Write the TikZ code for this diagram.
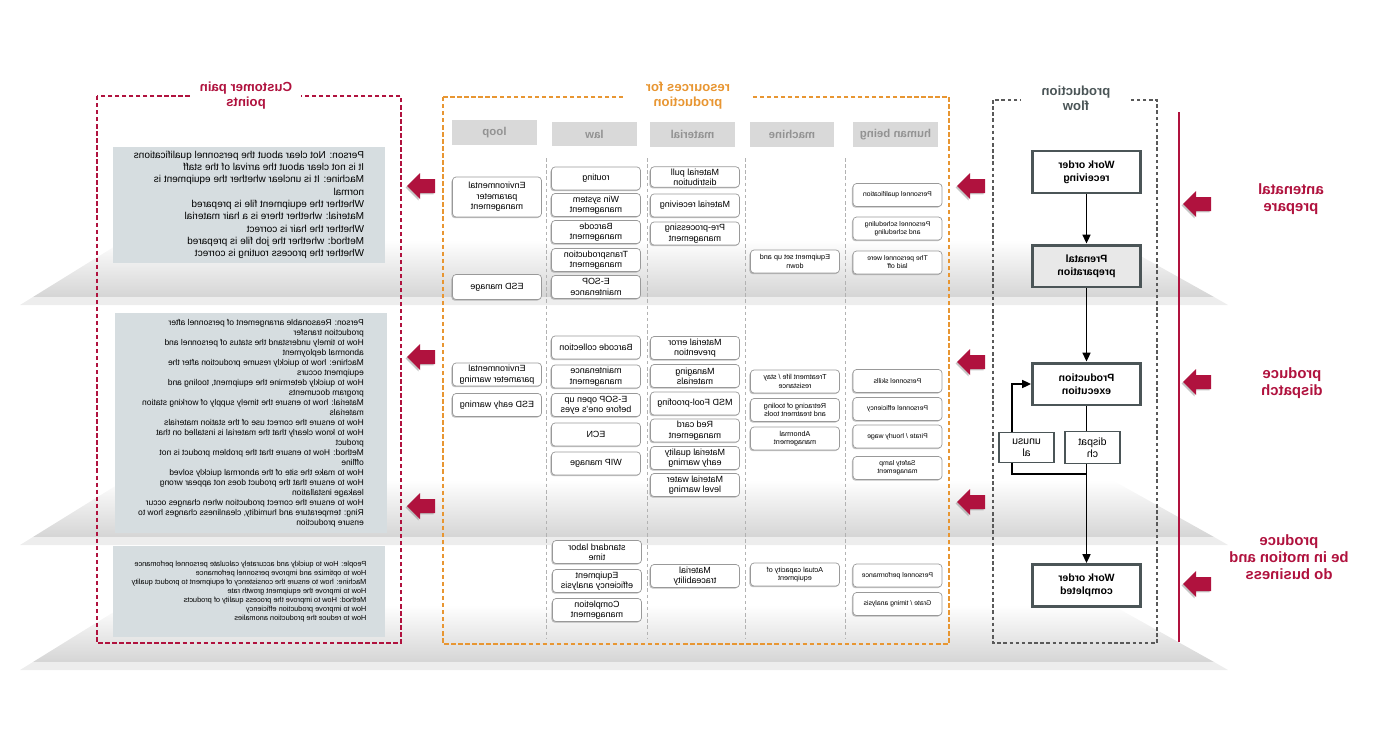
\documentclass[tikz,border=0pt]{standalone}
\usepackage{fontspec}
\setmainfont{Liberation Sans}
\usetikzlibrary{arrows.meta,shadows}

\definecolor{crimson}{RGB}{176,18,62}
\definecolor{resorange}{RGB}{232,150,50}
\definecolor{flowgray}{RGB}{75,85,87}
\definecolor{painfill}{RGB}{214,221,224}
\definecolor{headfill}{RGB}{217,217,217}

\tikzset{
  resbox/.style={draw=gray!80, fill=white, rounded corners=2pt, minimum width=1.78cm,
    minimum height=0.46cm, inner sep=1pt, align=center, font=\fontsize{5.1}{5.9}\selectfont,
    drop shadow={shadow xshift=-0.6pt, shadow yshift=-0.7pt, opacity=.5}},
  smallbox/.style={resbox, font=\fontsize{3.9}{4.6}\selectfont},
  headbox/.style={fill=headfill, minimum width=1.7cm, minimum height=0.5cm, text=gray!85,
    font=\fontsize{6.5}{7}\selectfont\bfseries},
  painbox/.style={fill=painfill, align=left, inner sep=0pt, minimum width=5.44cm},
  flowbox/.style={draw=flowgray, line width=1.7pt, fill=white, minimum width=2.16cm,
    minimum height=0.84cm, align=center, font=\fontsize{6}{7.2}\selectfont\bfseries},
  branchbox/.style={draw=flowgray, line width=0.6pt, fill=white, minimum width=1.1cm,
    minimum height=0.58cm, align=center, font=\fontsize{6}{7}\selectfont},
  flowarrow/.style={line width=1pt, -{Triangle[length=5pt,width=4.5pt]}},
  frametitle/.style={fill=white, align=center, minimum width=2.2cm, inner sep=1pt,
    font=\fontsize{7.5}{8.5}\selectfont\bfseries},
  phase/.style={text=crimson, align=center, font=\fontsize{8.5}{9.7}\selectfont\bfseries},
  colsep/.style={gray!60, line width=.5pt, dash pattern=on 2pt off 1.5pt},
  redarrow/.style={fill=crimson, drop shadow={shadow xshift=-0.8pt, shadow yshift=-0.8pt, opacity=.45}},
}

\begin{document}
\begin{tikzpicture}[x=-0.02cm, y=-0.02cm, xscale=-1, transform shape]
\useasboundingbox (0,0) rectangle (1380,730);

% floors
\foreach \t/\b in {240/305, 480/545, 605/670} {
  \shade[top color=white, bottom color=gray!33] (125,\t) -- (1112,\t) -- (1214,\b-8) -- (33,\b-8) -- cycle;
  \fill[gray!14] (33,\b-8) -- (1214,\b-8) -- (1228,\b) -- (20,\b) -- cycle;
}

% frames
\draw[crimson, line width=.9pt, dash pattern=on 2.5pt off 1.5pt] (97,96) rectangle (401,643);
\draw[resorange, line width=.9pt, dash pattern=on 2.5pt off 1.5pt] (443,97) rectangle (949,644);
\draw[gray!70!black, line width=.7pt, dash pattern=on 2pt off 1.5pt] (993,100) rectangle (1157,643);
\node[frametitle, text=crimson] (tpain) at (246,96) {Customer pain\\points};
\node[frametitle, text=resorange, minimum width=2.6cm] (tres) at (688,96) {resources for\\production};
\node[frametitle, text=flowgray] (tflow) at (1076,98) {production\\flow};

% pain points
\node[painbox, minimum height=2.32cm, font=\fontsize{5.7}{7}\selectfont] (p1) at (249,205) {%
Person: Not clear about the personnel qualifications\\
It is not clear about the arrival of the staff\\
Machine: It is unclear whether the equipment is\\
normal\\
Whether the equipment file is prepared\\
Material: whether there is a hair material\\
Whether the hair is correct\\
Method: whether the job file is prepared\\
Whether the process routing is correct};
\node[painbox, minimum height=4.4cm, font=\fontsize{4.8}{5.7}\selectfont] (p2) at (251,423) {%
Person: Reasonable arrangement of personnel after\\
production transfer\\
How to timely understand the status of personnel and\\
abnormal deployment\\
Machine: how to quickly resume production after the\\
equipment occurs\\
How to quickly determine the equipment, tooling and\\
program documents\\
Material: how to ensure the timely supply of working station\\
materials\\
How to ensure the correct use of the station materials\\
How to know clearly that the material is installed on that\\
product\\
Method: How to ensure that the problem product is not\\
offline\\
How to make the site of the abnormal quickly solved\\
How to ensure that the product does not appear wrong\\
leakage installation\\
How to ensure the correct production when changes occur\\
Ring: temperature and humidity, cleanliness changes how to\\
ensure production};
\node[painbox, minimum height=1.82cm, font=\fontsize{4.2}{5.1}\selectfont] (p3) at (249,591.5) {%
People: How to quickly and accurately calculate personnel perfomance\\
How to optimize and improve personnel perfomance\\
Machine: how to ensure the consistency of equipment to product quality\\
How to improve the equipment growth rate\\
Method: How to improve the process quality of products\\
How to improve production efficiency\\
How to reduce the production anomalies};

% column heads
\node[headbox] (hloop) at (494.5,132.5) {loop};
\node[headbox] (hlaw) at (594.5,134) {law};
\node[headbox] (hmat) at (692.5,134.5) {material};
\node[headbox] (hmach) at (792,134.5) {machine};
\node[headbox] (hhum) at (895.5,134.5) {human being};
\foreach \sx in {546,647,745,845}
  \draw[colsep] (\sx,158) -- (\sx,638);

% loop
\node[resbox, minimum height=0.8cm] (l1) at (497,197) {Environmental\\parameter\\management};
\node[resbox, minimum height=0.5cm] (l2) at (497,287) {ESD manage};
\node[resbox] (l3) at (497,374.5) {Environmental\\parameter warning};
\node[resbox] (l4) at (497,405) {ESD early warning};

% law
\node[resbox] (w1) at (596,178.5) {routing};
\node[resbox] (w2) at (596,205) {Win system\\management};
\node[resbox] (w3) at (596,232) {Barcode\\management};
\node[resbox] (w4) at (596,260) {Transproduction\\management};
\node[resbox] (w5) at (596,287) {E-SOP\\maintenance};
\node[resbox] (w6) at (596,347.5) {Barcode collection};
\node[resbox] (w7) at (596,376.5) {maintenance\\management};
\node[resbox] (w8) at (596,405) {E-SOP open up\\before one's eyes};
\node[resbox] (w9) at (596,434.5) {ECN};
\node[resbox] (w10) at (596,463.5) {WIP manage};
\node[resbox] (w11) at (597,552) {standard labor\\time};
\node[resbox] (w12) at (597,581) {Equipment\\efficiency analysis};
\node[resbox] (w13) at (597,610) {Completion\\management};

% material
\node[resbox, minimum height=0.4cm] (m1) at (695,177) {Material pull\\distribution};
\node[resbox] (m2) at (695,205.5) {Material receiving};
\node[resbox] (m3) at (695,233.5) {Pre-processing\\management};
\node[resbox] (m4) at (695,348) {Material error\\prevention};
\node[resbox] (m5) at (695,376) {Managing\\materials};
\node[resbox] (m6) at (695,403.5) {MSD Fool-proofing};
\node[resbox] (m7) at (695,430.5) {Red card\\management};
\node[resbox] (m8) at (695,458) {Material quality\\early warning};
\node[resbox] (m9) at (695,485) {Material water\\level warning};
\node[resbox] (m10) at (695,576) {Material\\traceability};

% machine
\node[smallbox, font=\fontsize{4.1}{4.8}\selectfont] (c1) at (795,261.5) {Equipment set up and\\down};
\node[smallbox, font=\fontsize{4.1}{4.8}\selectfont] (c2) at (795,381.5) {Treatment life / stay\\resistance};
\node[smallbox, font=\fontsize{4.1}{4.8}\selectfont] (c3) at (795,410) {Retracing of tooling\\and treatment tools};
\node[smallbox, font=\fontsize{4.1}{4.8}\selectfont] (c4) at (795,438.5) {Abnormal\\management};
\node[smallbox, font=\fontsize{4.1}{4.8}\selectfont] (c5) at (795,574.5) {Actual capacity of\\equipment};

% human being
\node[smallbox] (h1) at (897.5,195) {Personnel qualification};
\node[smallbox] (h2) at (897.5,228.5) {Personnel scheduling\\and scheduling};
\node[smallbox] (h3) at (897.5,262.5) {The personnel were\\laid off};
\node[smallbox] (h4) at (897.5,381) {Personnel skills};
\node[smallbox] (h5) at (897.5,409) {Personnel efficiency};
\node[smallbox] (h6) at (897.5,436.5) {Pirate / hourly wage};
\node[smallbox] (h7) at (897.5,468) {Safety lamp\\management};
\node[smallbox] (h8) at (897.5,575.5) {Personnel performance};
\node[smallbox] (h9) at (897.5,604) {Grate / timing analysis};

% production flow
\node[flowbox] (f1) at (1086.5,172) {Work order\\receiving};
\node[flowbox, fill=gray!18] (f2) at (1086.5,266) {Prenatal\\preparation};
\node[flowbox] (f3) at (1086.5,384) {Production\\execution};
\node[flowbox] (f4) at (1086.5,585.5) {Work order\\completed};
\draw[flowarrow] (f1) -- (f2);
\draw[flowarrow] (f2) -- (f3);
\draw[flowarrow] (f3) -- (f4);
\coordinate (lp) at (1086.5,474);
\coordinate (lc) at (1012,474);
\draw[flowarrow] (lp) -- (lc) |- (f3.east);
\node[branchbox] (disp) at (1092.5,447.5) {dispat\\ch};
\node[branchbox] (unus) at (1026.5,447.5) {unusu\\al};

% stages
\draw[crimson, line width=1.2pt] (1179,112) -- (1179,642);
\node[phase] (s1) at (1291,199.5) {antenatal\\prepare};
\node[phase] (s2) at (1292,383.5) {produce\\dispatch};
\node[phase] (s3) at (1289,557.5) {produce\\be in motion and\\do business};

% red arrows
\foreach \ax/\ay in {421/186, 421/357, 421/506, 971/186, 971/362, 971/502, 1197/204, 1197/382, 1197/584}
  \fill[redarrow] (\ax-14,\ay) -- (\ax-1,\ay-13) -- (\ax-1,\ay-7) -- (\ax+14,\ay-7)
    -- (\ax+14,\ay+7) -- (\ax-1,\ay+7) -- (\ax-1,\ay+13) -- cycle;
\end{tikzpicture}
\end{document}
